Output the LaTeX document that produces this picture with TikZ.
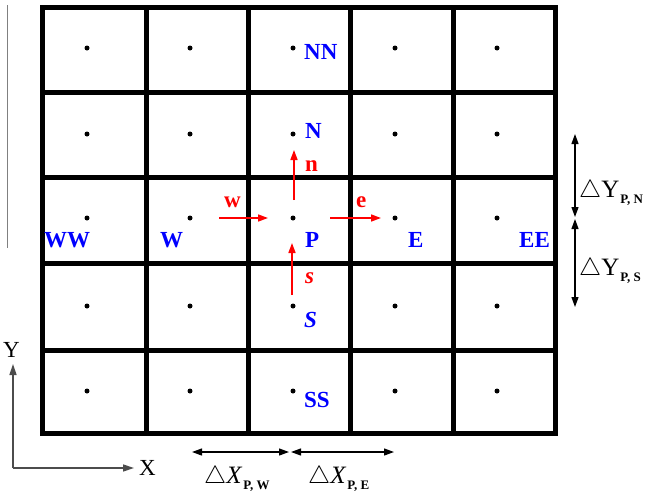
\documentclass[tikz,border=0pt]{standalone}
\usepackage{fontspec}
\setmainfont{Liberation Serif}
\usetikzlibrary{arrows.meta}

\begin{document}
\begin{tikzpicture}[
  x=1pt, y=-1pt,
  gridline/.style={line width=5pt},
  cellpt/.style={circle, fill=black, inner sep=0pt, minimum size=5pt},
  nodename/.style={anchor=base west, inner sep=0pt, text=blue, font=\fontsize{23}{23}\selectfont\bfseries},
  facename/.style={anchor=base west, inner sep=0pt, text=red, font=\fontsize{23}{23}\selectfont\bfseries},
  flux/.style={-{Triangle[length=10pt,width=7pt]}, red, line width=1.6pt},
  dimline/.style={{Triangle[length=10pt,width=7pt]}-{Triangle[length=10pt,width=7pt]}, line width=1.2pt},
  axis/.style={-{Triangle[length=11pt,width=7pt]}, black!70, line width=1.4pt},
  dimlabel/.style={anchor=base west, inner sep=0pt, font=\fontsize{25}{25}\selectfont},
  sub/.style={font=\fontsize{13}{13}\selectfont\bfseries}
]
  \useasboundingbox (0,0) rectangle (654,498);

  % grid of control volumes
  \draw[gridline] (42,7) rectangle (555,433);
  \draw[gridline] (146,7) -- (146,433) (248,7) -- (248,433)
                  (350,7) -- (350,433) (453,7) -- (453,433);
  \draw[gridline] (42,92) -- (555,92) (42,177) -- (555,177)
                  (42,263) -- (555,263) (42,350) -- (555,350);
  \draw[gray, line width=1pt] (7,5) -- (7,248);

  % cell centres
  \node[cellpt] (c11) at (87,48) {};  \node[cellpt] (c12) at (190,48) {};  \node[cellpt] (NN) at (293,48) {};
  \node[cellpt] (c14) at (395,48) {}; \node[cellpt] (c15) at (497,48) {};
  \node[cellpt] (c21) at (87,134) {}; \node[cellpt] (c22) at (190,134) {}; \node[cellpt] (N) at (293,134) {};
  \node[cellpt] (c24) at (395,134) {};\node[cellpt] (c25) at (497,134) {};
  \node[cellpt] (WW) at (87,218) {};  \node[cellpt] (W) at (190,218) {};   \node[cellpt] (P) at (293,218) {};
  \node[cellpt] (E) at (395,218) {};  \node[cellpt] (EE) at (497,218) {};
  \node[cellpt] (c41) at (87,306) {}; \node[cellpt] (c42) at (190,306) {}; \node[cellpt] (S) at (293,306) {};
  \node[cellpt] (c44) at (395,306) {};\node[cellpt] (c45) at (497,306) {};
  \node[cellpt] (c51) at (87,391) {}; \node[cellpt] (c52) at (190,391) {}; \node[cellpt] (SS) at (293,391) {};
  \node[cellpt] (c54) at (395,391) {};\node[cellpt] (c55) at (497,391) {};

  % node names
  \node[nodename] (lNN) at (304,59) {NN};
  \node[nodename] (lN) at (305,138) {N};
  \node[nodename] (lP) at (305,247) {P};
  \node[nodename] (lWW) at (44,247) {WW};
  \node[nodename] (lW) at (160,247) {W};
  \node[nodename] (lE) at (408,247) {E};
  \node[nodename] (lEE) at (519,247) {EE};
  \node[nodename] (lS) at (304,327) {\itshape S};
  \node[nodename] (lSS) at (304,407) {SS};

  % faces
  \coordinate (w0) at (219,218); \coordinate (w1) at (268,218);
  \coordinate (e0) at (330,218); \coordinate (e1) at (381,218);
  \coordinate (n0) at (294,200); \coordinate (n1) at (294,150);
  \coordinate (s0) at (292,295); \coordinate (s1) at (292,243);
  \draw[flux] (w0) -- (w1);
  \draw[flux] (e0) -- (e1);
  \draw[flux] (n0) -- (n1);
  \draw[flux] (s0) -- (s1);
  \node[facename] (lw) at (224,207) {w};
  \node[facename] (le) at (356,207) {e};
  \node[facename] (ln) at (305,171) {n};
  \node[facename] (ls) at (305,283) {\itshape s};

  % spacings
  \coordinate (xa) at (192,452); \coordinate (xb) at (289,452);
  \coordinate (xc) at (291,452); \coordinate (xd) at (394,452);
  \draw[dimline] (xa) -- (xb);
  \draw[dimline] (xc) -- (xd);
  \node[dimlabel] (dxw) at (204,483) {$\triangle$\textit{X}\raisebox{-6pt}{\tikz[baseline]\node[sub,inner sep=1pt,anchor=base]{P, W};}};
  \node[dimlabel] (dxe) at (308,483) {$\triangle$\textit{X}\raisebox{-6pt}{\tikz[baseline]\node[sub,inner sep=1pt,anchor=base]{P, E};}};
  \coordinate (ya) at (575,134); \coordinate (yb) at (575,217);
  \coordinate (yc) at (575,219); \coordinate (yd) at (575,307);
  \draw[dimline] (ya) -- (yb);
  \draw[dimline] (yc) -- (yd);
  \node[dimlabel] (dyn) at (579,197) {$\triangle$Y\raisebox{-6pt}{\tikz[baseline]\node[sub,inner sep=1pt,anchor=base]{P, N};}};
  \node[dimlabel] (dys) at (579,275) {$\triangle$Y\raisebox{-6pt}{\tikz[baseline]\node[sub,inner sep=1pt,anchor=base]{P, S};}};

  % axes
  \coordinate (o) at (13,468);
  \coordinate (yend) at (13,364);
  \coordinate (xend) at (134,468);
  \draw[axis] (o) -- (yend);
  \draw[axis] (o) -- (xend);
  \node[dimlabel, font=\fontsize{23}{23}\selectfont] (lY) at (3,357) {Y};
  \node[dimlabel, font=\fontsize{23}{23}\selectfont] (lX) at (139,475) {X};
\end{tikzpicture}
\end{document}
